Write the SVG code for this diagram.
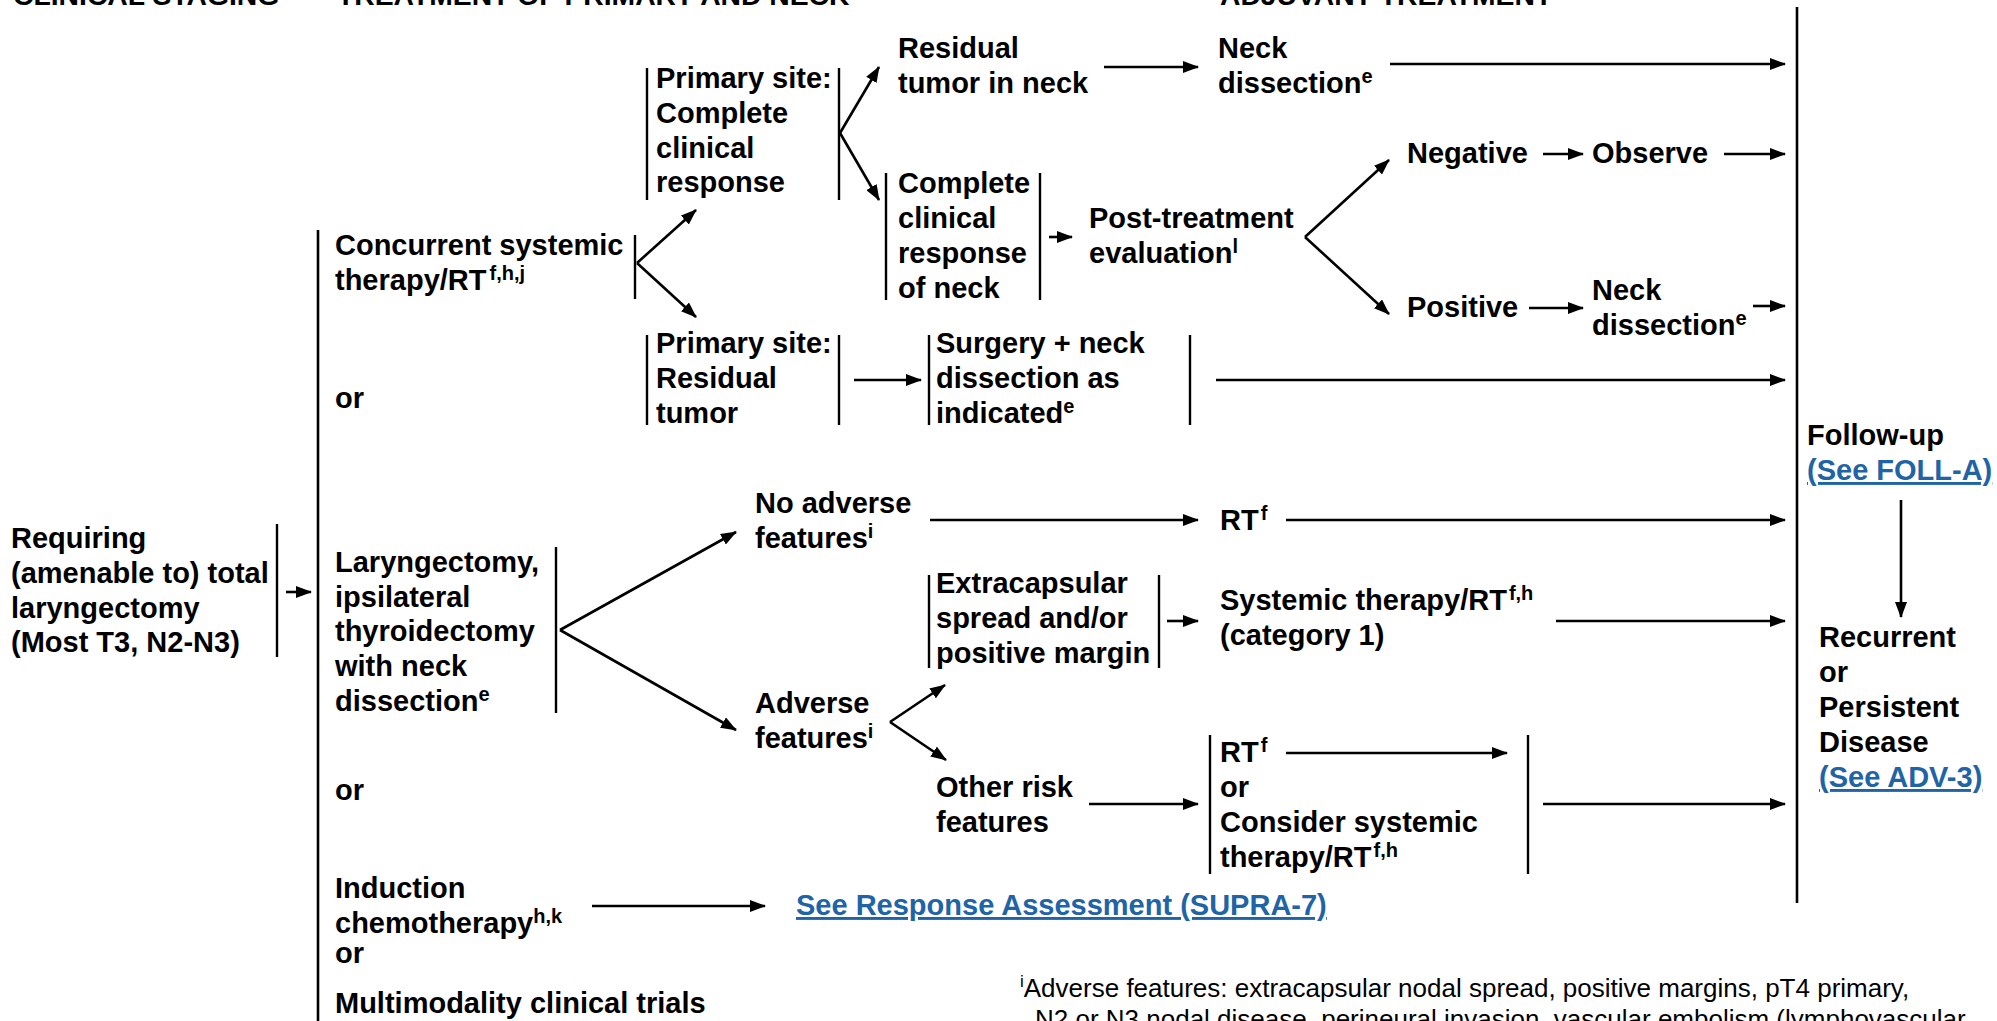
<svg xmlns="http://www.w3.org/2000/svg" width="1997" height="1021" viewBox="0 0 1997 1021">
<style>
  text { font-family: "Liberation Sans", Arial, Helvetica, sans-serif; fill: #000; }
  .b { font-weight: bold; font-size: 29px; }
  .hdr { font-weight: bold; font-size: 28.3px; }
  .sup { font-size: 20px; }
  .lnk { fill: #1f64a6; text-decoration: underline; }
  .fn { font-size: 26px; }
  .fsup { font-size: 17px; }
  .bar { stroke: #000; stroke-width: 2.4; fill: none; }
  .ln { stroke: #000; stroke-width: 2.6; fill: none; }
  .arr { stroke: #000; stroke-width: 2.6; fill: none; marker-end: url(#ah); }
</style>
<defs>
  <marker id="ah" viewBox="0 0 16 12" refX="15" refY="6" markerWidth="16" markerHeight="12" markerUnits="userSpaceOnUse" orient="auto">
    <path d="M0,0 L16,6 L0,12 z" fill="#000"/>
  </marker>
</defs>
<rect width="1997" height="1021" fill="#fff"/>

<!-- column headings (clipped by the top edge) -->
<g id="headings">
  <text class="hdr" x="13" y="5">CLINICAL STAGING</text>
  <text class="hdr" x="337" y="5">TREATMENT OF PRIMARY AND NECK</text>
  <text class="hdr" x="1220" y="5">ADJUVANT TREATMENT</text>
</g>

<!-- connectors -->
<g id="connectors">
  <!-- main brackets -->
  <line class="ln" x1="318" y1="230" x2="318" y2="1021"/>
  <line class="ln" x1="1797" y1="7" x2="1797" y2="903"/>
  <!-- staging to treatment -->
  <line class="arr" x1="286" y1="592" x2="311" y2="592"/>
  <!-- concurrent systemic therapy branches -->
  <line class="arr" x1="637" y1="263" x2="696" y2="210"/>
  <line class="arr" x1="637" y1="263" x2="696" y2="317"/>
  <!-- primary site CR branches -->
  <line class="arr" x1="840" y1="133" x2="879" y2="67"/>
  <line class="arr" x1="840" y1="133" x2="879" y2="200"/>
  <line class="arr" x1="1104" y1="67" x2="1198" y2="67"/>
  <line class="arr" x1="1390" y1="64" x2="1785" y2="64"/>
  <!-- post-treatment evaluation -->
  <line class="arr" x1="1049" y1="237" x2="1072" y2="237"/>
  <line class="arr" x1="1305" y1="237" x2="1389" y2="160"/>
  <line class="arr" x1="1305" y1="237" x2="1389" y2="314"/>
  <line class="arr" x1="1543" y1="154" x2="1583" y2="154"/>
  <line class="arr" x1="1724" y1="154" x2="1785" y2="154"/>
  <line class="arr" x1="1529" y1="308" x2="1583" y2="308"/>
  <line class="arr" x1="1753" y1="306" x2="1785" y2="306"/>
  <!-- residual primary -->
  <line class="arr" x1="854" y1="380" x2="921" y2="380"/>
  <line class="arr" x1="1216" y1="380" x2="1785" y2="380"/>
  <!-- laryngectomy branches -->
  <line class="arr" x1="560" y1="630" x2="736" y2="532"/>
  <line class="arr" x1="560" y1="630" x2="736" y2="730"/>
  <line class="arr" x1="930" y1="520" x2="1198" y2="520"/>
  <line class="arr" x1="1286" y1="520" x2="1785" y2="520"/>
  <!-- adverse features branches -->
  <line class="arr" x1="890" y1="722" x2="945" y2="685"/>
  <line class="arr" x1="890" y1="722" x2="946" y2="760"/>
  <line class="arr" x1="1167" y1="621" x2="1198" y2="621"/>
  <line class="arr" x1="1556" y1="621" x2="1785" y2="621"/>
  <line class="arr" x1="1089" y1="804" x2="1198" y2="804"/>
  <line class="arr" x1="1286" y1="753" x2="1507" y2="753"/>
  <line class="arr" x1="1543" y1="804" x2="1785" y2="804"/>
  <!-- induction chemotherapy -->
  <line class="arr" x1="592" y1="906" x2="765" y2="906"/>
  <!-- follow-up to recurrence -->
  <line class="arr" x1="1901" y1="500" x2="1901" y2="617"/>
</g>

<!-- nodes -->
<g id="staging">
  <line class="bar" x1="277" y1="524" x2="277" y2="657"/>
  <text class="b" x="11" y="548">Requiring</text>
  <text class="b" x="11" y="583">(amenable to) total</text>
  <text class="b" x="11" y="618">laryngectomy</text>
  <text class="b" x="11" y="652">(Most T3, N2-N3)</text>
</g>

<g id="concurrent">
  <line class="bar" x1="635" y1="235" x2="635" y2="299"/>
  <text class="b" x="335" y="255">Concurrent systemic</text>
  <text class="b" x="335" y="290">therapy/RT<tspan class="sup" dx="3" dy="-10">f,h,j</tspan></text>
</g>

<g id="or-1"><text class="b" x="335" y="408">or</text></g>

<g id="primary-cr">
  <line class="bar" x1="647" y1="68" x2="647" y2="200"/>
  <line class="bar" x1="839" y1="68" x2="839" y2="200"/>
  <text class="b" x="656" y="88">Primary site:</text>
  <text class="b" x="656" y="123">Complete</text>
  <text class="b" x="656" y="158">clinical</text>
  <text class="b" x="656" y="192">response</text>
</g>

<g id="residual-neck">
  <text class="b" x="898" y="58">Residual</text>
  <text class="b" x="898" y="93">tumor in neck</text>
</g>

<g id="neck-dissection-1">
  <text class="b" x="1218" y="58">Neck</text>
  <text class="b" x="1218" y="93">dissection<tspan class="sup" dy="-10">e</tspan></text>
</g>

<g id="cr-neck">
  <line class="bar" x1="886" y1="173" x2="886" y2="300"/>
  <line class="bar" x1="1040" y1="173" x2="1040" y2="300"/>
  <text class="b" x="898" y="193">Complete</text>
  <text class="b" x="898" y="228">clinical</text>
  <text class="b" x="898" y="263">response</text>
  <text class="b" x="898" y="298">of neck</text>
</g>

<g id="post-treatment">
  <text class="b" x="1089" y="228">Post-treatment</text>
  <text class="b" x="1089" y="263">evaluation<tspan class="sup" dy="-10">l</tspan></text>
</g>

<g id="negative"><text class="b" x="1407" y="163">Negative</text></g>
<g id="observe"><text class="b" x="1592" y="163">Observe</text></g>
<g id="positive"><text class="b" x="1407" y="317">Positive</text></g>
<g id="neck-dissection-2">
  <text class="b" x="1592" y="300">Neck</text>
  <text class="b" x="1592" y="335">dissection<tspan class="sup" dy="-10">e</tspan></text>
</g>

<g id="primary-residual">
  <line class="bar" x1="647" y1="335" x2="647" y2="425"/>
  <line class="bar" x1="839" y1="335" x2="839" y2="425"/>
  <text class="b" x="656" y="353">Primary site:</text>
  <text class="b" x="656" y="388">Residual</text>
  <text class="b" x="656" y="423">tumor</text>
</g>

<g id="surgery">
  <line class="bar" x1="929" y1="335" x2="929" y2="425"/>
  <line class="bar" x1="1190" y1="335" x2="1190" y2="425"/>
  <text class="b" x="936" y="353">Surgery + neck</text>
  <text class="b" x="936" y="388">dissection as</text>
  <text class="b" x="936" y="423">indicated<tspan class="sup" dy="-10">e</tspan></text>
</g>

<g id="laryngectomy">
  <line class="bar" x1="556" y1="547" x2="556" y2="713"/>
  <text class="b" x="335" y="572">Laryngectomy,</text>
  <text class="b" x="335" y="607">ipsilateral</text>
  <text class="b" x="335" y="641">thyroidectomy</text>
  <text class="b" x="335" y="676">with neck</text>
  <text class="b" x="335" y="711">dissection<tspan class="sup" dy="-10">e</tspan></text>
</g>

<g id="no-adverse">
  <text class="b" x="755" y="513">No adverse</text>
  <text class="b" x="755" y="548">features<tspan class="sup" dy="-10">i</tspan></text>
</g>

<g id="rt-1"><text class="b" x="1220" y="530">RT<tspan class="sup" dx="2" dy="-10">f</tspan></text></g>

<g id="extracapsular">
  <line class="bar" x1="929" y1="575" x2="929" y2="668"/>
  <line class="bar" x1="1159" y1="575" x2="1159" y2="668"/>
  <text class="b" x="936" y="593">Extracapsular</text>
  <text class="b" x="936" y="628">spread and/or</text>
  <text class="b" x="936" y="663">positive margin</text>
</g>

<g id="systemic-rt">
  <text class="b" x="1220" y="610">Systemic therapy/RT<tspan class="sup" dx="2" dy="-10">f,h</tspan></text>
  <text class="b" x="1220" y="645">(category 1)</text>
</g>

<g id="adverse">
  <text class="b" x="755" y="713">Adverse</text>
  <text class="b" x="755" y="748">features<tspan class="sup" dy="-10">i</tspan></text>
</g>

<g id="other-risk">
  <text class="b" x="936" y="797">Other risk</text>
  <text class="b" x="936" y="832">features</text>
</g>

<g id="rt-or-systemic">
  <line class="bar" x1="1210" y1="735" x2="1210" y2="874"/>
  <line class="bar" x1="1528" y1="735" x2="1528" y2="874"/>
  <text class="b" x="1220" y="762">RT<tspan class="sup" dx="2" dy="-10">f</tspan></text>
  <text class="b" x="1220" y="797">or</text>
  <text class="b" x="1220" y="832">Consider systemic</text>
  <text class="b" x="1220" y="867">therapy/RT<tspan class="sup" dx="2" dy="-10">f,h</tspan></text>
</g>

<g id="or-2"><text class="b" x="335" y="800">or</text></g>

<g id="induction">
  <text class="b" x="335" y="898">Induction</text>
  <text class="b" x="335" y="933">chemotherapy<tspan class="sup" dy="-10">h,k</tspan></text>
  <text class="b" x="335" y="963">or</text>
</g>

<g id="trials"><text class="b" x="335" y="1013">Multimodality clinical trials</text></g>

<g id="response-assessment">
  <text class="b lnk" x="796" y="915">See Response Assessment (SUPRA-7)</text>
</g>

<g id="follow-up">
  <text class="b" x="1807" y="445">Follow-up</text>
  <text class="b lnk" x="1807" y="480">(See FOLL-A)</text>
</g>

<g id="recurrent">
  <text class="b" x="1819" y="647">Recurrent</text>
  <text class="b" x="1819" y="682">or</text>
  <text class="b" x="1819" y="717">Persistent</text>
  <text class="b" x="1819" y="752">Disease</text>
  <text class="b lnk" x="1819" y="787">(See ADV-3)</text>
</g>

<!-- footnote -->
<g id="footnote">
  <text class="fn" x="1020" y="997"><tspan class="fsup" dy="-10">i</tspan><tspan dy="10">Adverse features: extracapsular nodal spread, positive margins, pT4 primary,</tspan></text>
  <text class="fn" x="1035" y="1028">N2 or N3 nodal disease, perineural invasion, vascular embolism (lymphovascular</text>
</g>
</svg>
